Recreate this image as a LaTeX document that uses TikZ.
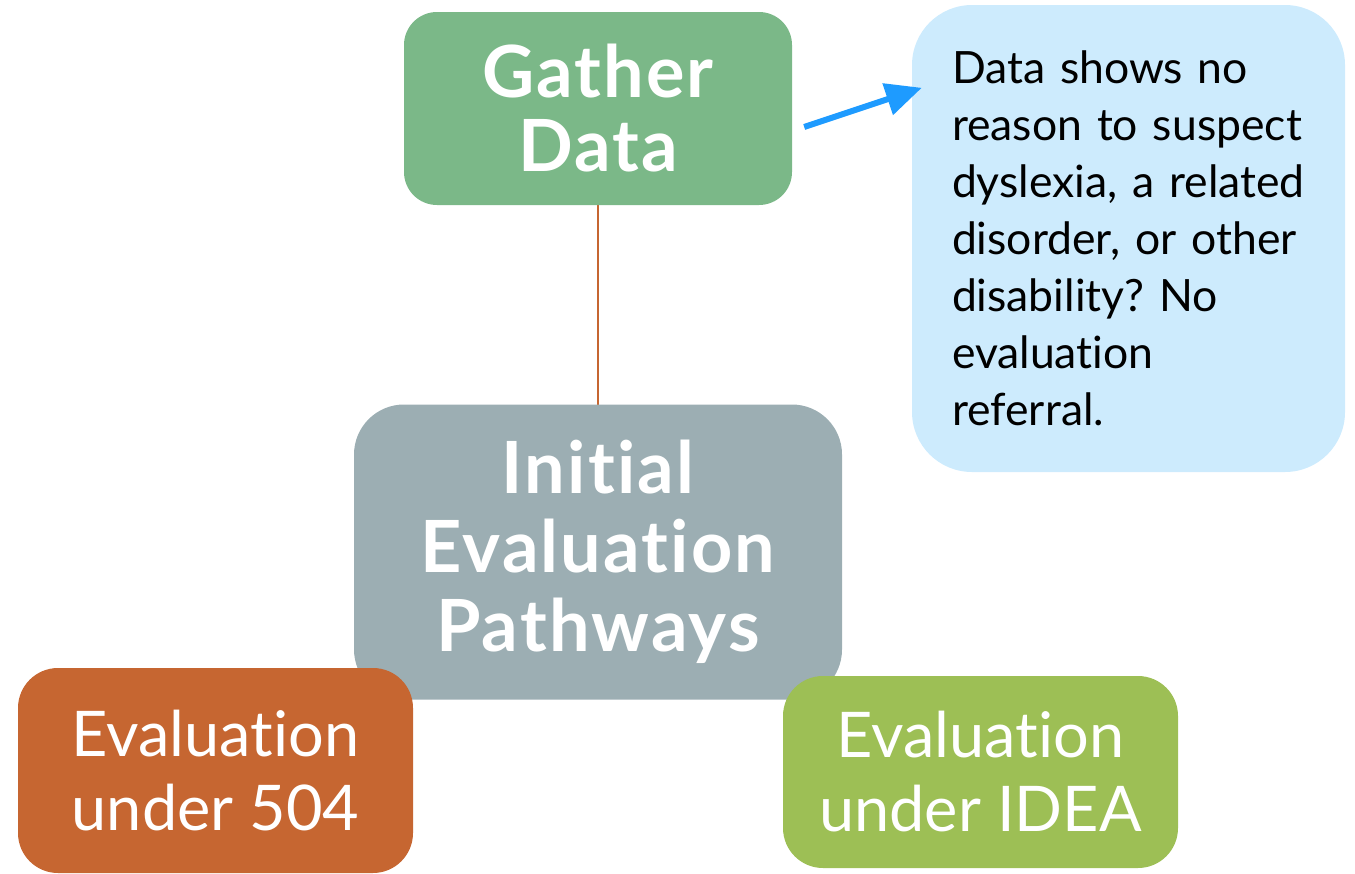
\documentclass[tikz,border=0pt]{standalone}
\usepackage{fontspec}
\setmainfont{Lato}[Ligatures={NoCommon,NoContextual}]
\usetikzlibrary{arrows.meta,backgrounds}
\definecolor{gathergreen}{HTML}{7BB888}
\definecolor{noteblue}{HTML}{CDEBFD}
\definecolor{initgray}{HTML}{9CAEB3}
\definecolor{rust}{HTML}{C66631}
\definecolor{ideagreen}{HTML}{9DBF55}
\definecolor{arrowblue}{HTML}{1E9BFF}
\frenchspacing
\begin{document}
\begin{tikzpicture}[x=1pt,y=-1pt,
  box/.style={rectangle, draw=none, inner sep=0pt, align=center, text=white},
  headreg/.style={font={\fontsize{63}{74}\selectfont}},
  link/.style={draw=rust, line width=2pt},
  pointer/.style={draw=arrowblue, line width=6pt, -{Triangle[length=36pt,width=32pt]}}
]
\useasboundingbox (0,0) rectangle (1355,873);

\node[box, fill=gathergreen, minimum width=388pt, minimum height=193pt,
      rounded corners=33pt,
      font={\fontsize{72}{74}\selectfont\bfseries\addfontfeature{LetterSpace=3}}] (gather) at (598,108.5) {Gather\\Data};

\node[box, fill=noteblue, minimum width=433pt, minimum height=467pt,
      rounded corners=60pt, text=black, align=left, text width=353pt,
      font={\fontsize{44.5}{57}\selectfont}] (note) at (1128.5,238.5)
  {Data shows no\\reason to suspect\\dyslexia, a related\\disorder, or other\\disability? No\\evaluation\\referral.};

\node[box, fill=initgray, minimum width=488pt, minimum height=295pt,
      rounded corners=50pt,
      font={\fontsize{72}{79}\selectfont\bfseries\addfontfeature{LetterSpace=3}}] (initial) at (598,552)
  {Initial\\Evaluation\\Pathways};

\node[box, fill=rust, minimum width=395pt, minimum height=205pt,
      rounded corners=40pt, headreg] (sec504) at (215.5,770.5) {Evaluation\\under 504};

\node[box, fill=ideagreen, minimum width=395pt, minimum height=192pt,
      rounded corners=40pt, headreg] (idea) at (980.5,772) {Evaluation\\under IDEA};

\begin{scope}[on background layer]
  \draw[link] (gather.center) -- (initial.center);
  \draw[link] (initial.center) -- (sec504.center);
  \draw[link] (initial.center) -- (idea.center);
\end{scope}

\draw[pointer] ([xshift=12pt,yshift=-18.5pt]gather.east) -- ([xshift=10pt,yshift=-83pt]note.north west);
\end{tikzpicture}
\end{document}
